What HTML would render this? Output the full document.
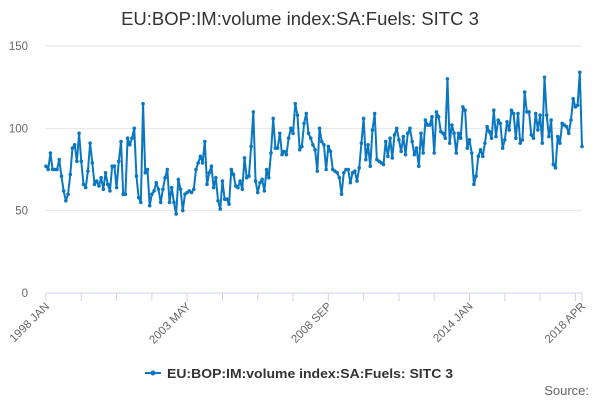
<!DOCTYPE html>
<html><head><meta charset="utf-8"><style>
body{margin:0;background:#fff;font-family:"Liberation Sans",sans-serif}
</style></head><body>
<svg id="c" width="600" height="400" xmlns="http://www.w3.org/2000/svg" style="font-family:'Liberation Sans',sans-serif">
<text x="300" y="25" text-anchor="middle" font-size="18.5" fill="#333">EU:BOP:IM:volume index:SA:Fuels: SITC 3</text>
<g id="grid"></g><g id="xaxis"></g><g id="series"></g>
<g>
<line x1="145" y1="373" x2="161" y2="373" stroke="#0a77c0" stroke-width="2"/>
<circle cx="153" cy="373" r="2.5" fill="#0a77c0"/>
<text x="167" y="378" font-size="13.2" font-weight="bold" fill="#333" textLength="286" lengthAdjust="spacingAndGlyphs">EU:BOP:IM:volume index:SA:Fuels: SITC 3</text>
</g>
<text x="589" y="395" text-anchor="end" font-size="13" fill="#666">Source:</text>
</svg>
<script>
const yTicks=[0,50,100,150];
const xLabels=["1998 JAN","2003 MAY","2008 SEP","2014 JAN","2018 APR"];
const xLabelIdx=[0,64,128,192,243];
const values=[77,75,85,75,75,75,81,71,62,56,60,72,
88,90,80,97,80,66,64,74,91,79,66,68,
65,70,63,73,66,62,77,77,64,80,92,60,
60,94,90,94,100,71,58,55,115,73,75,53,
60,62,67,63,55,63,70,75,55,64,55,48,
69,63,50,60,61,62,61,63,75,79,83,79,
92,66,73,77,64,70,56,51,68,
57,57,54,75,72,65,64,68,63,82,70,71,89,110,68,61,67,69,62,75,70,85,106,88,88,97,84,86,84,94,100,97,115,108,87,89,103,109,97,94,90,87,74,100,92,90,75,89,86,75,74,73,70,60,73,75,75,67,73,74,68,76,91,106,81,90,77,99,109,81,80,79,78,92,83,94,82,96,100,
93,86,95,84,97,100,92,84,88,77,97,85,105,102,102,107,85,110,107,98,97,94,130,91,102,97,85,97,94,113,111,88,93,85,66,71,83,87,83,91,101,98,94,111,95,105,103,88,93,104,99,111,109,94,109,91,93,122,110,110,96,94,109,99,108,91,131,108,95,105,78,76,95,91,103,102,101,97,105,118,113,114,134,89];
const NS="http://www.w3.org/2000/svg";
const x0=46,x1=582,yb=293,yt=46;
const X=i=>x0+(x1-x0)*i/(values.length-1);
const Y=v=>yb-(yb-yt)*v/150;
function mk(t,a,p){const e=document.createElementNS(NS,t);for(const k in a)e.setAttribute(k,a[k]);p.appendChild(e);return e;}
const grid=document.getElementById('grid');
yTicks.forEach(v=>{
 if(v>0){const l=mk('line',{x1:x0,x2:x1,y1:Y(v),y2:Y(v),stroke:'#e6e6e6'},grid);
 
 }
 const t=mk('text',{x:28,y:Y(v)+4,'text-anchor':'end','font-size':11.5,fill:'#666'},grid);
 t.textContent=v;
 
 
});
const xa=document.getElementById('xaxis');
const ax=mk('line',{x1:x0,x2:x1,y1:yb,y2:yb,stroke:'#ccd6eb'},xa);


for(let i=0;i<values.length;i+=16){
 const tk=mk('line',{x1:X(i),x2:X(i),y1:yb,y2:yb+8,stroke:'#ccd6eb'},xa);
 
 
}
const tl=mk('line',{x1:X(values.length-1),x2:X(values.length-1),y1:yb,y2:yb+8,stroke:'#ccd6eb'},xa);


xLabels.forEach((s,k)=>{
 const x=X(xLabelIdx[k]);
 const t=mk('text',{x:x+4,y:yb+14,'text-anchor':'end','font-size':11.5,fill:'#666',transform:`rotate(-45 ${x+4} ${yb+14})`},xa);
 t.textContent=s;
 
 
});
const sg=document.getElementById('series');
const pl=mk('polyline',{points:values.map((v,i)=>X(i)+','+Y(v)).join(' '),fill:'none',stroke:'#0a77c0','stroke-width':2,'stroke-linejoin':'round'},sg);


values.forEach((v,i)=>{
 const c=mk('circle',{cx:X(i),cy:Y(v),r:1.8,fill:'#0a77c0'},sg);
 
 
});
</script>
</body></html>
